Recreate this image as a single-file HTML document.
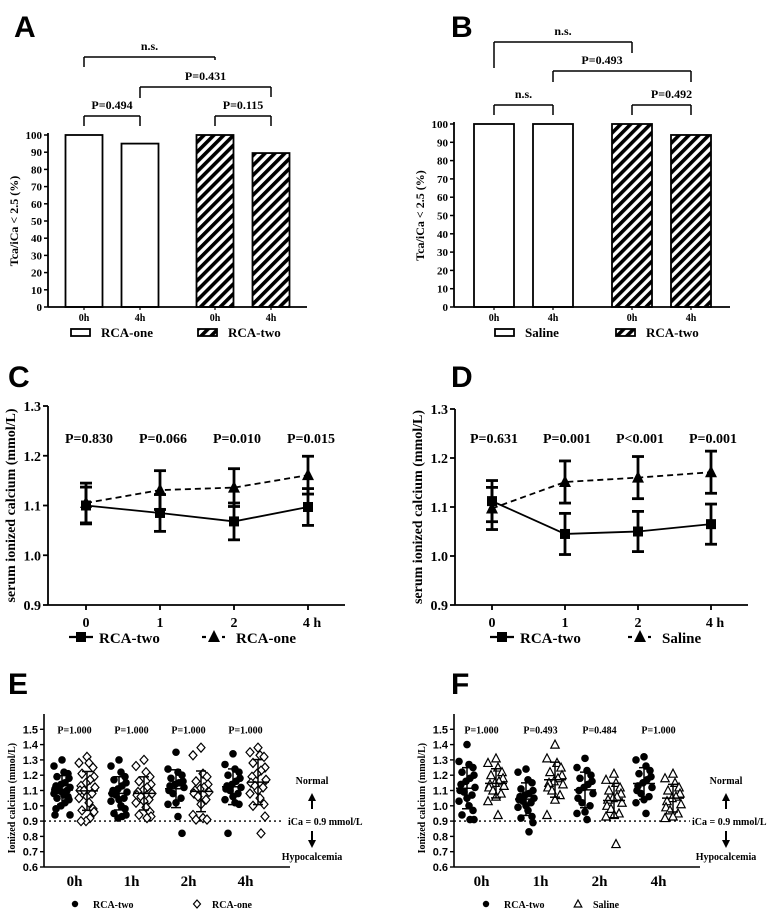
<!DOCTYPE html>
<html><head><meta charset="utf-8">
<style>
html,body{margin:0;padding:0;background:#fff;}
svg{display:block;}
.ser{font-family:"Liberation Serif",serif;font-weight:bold;fill:#000;}
.san{font-family:"Liberation Sans",sans-serif;font-weight:bold;fill:#000;}
</style></head>
<body>
<svg id="fig" width="778" height="912" viewBox="0 0 778 912" xmlns="http://www.w3.org/2000/svg">
<defs>
<pattern id="hatch" patternUnits="userSpaceOnUse" width="7" height="7" patternTransform="rotate(45)">
<rect width="7" height="7" fill="#fff"/><rect width="3.6" height="7" fill="#000"/>
</pattern>
</defs>
</svg>
<script>
// ---- Data ----
// Panel A
const barCatsA = ["0h","4h","0h","4h"];
const barValsA = [100, 95, 100, 89.5];
const barHatchA = [false,false,true,true];
// Panel B
const barCatsB = ["0h","4h","0h","4h"];
const barValsB = [100, 100, 100, 94];
const barHatchB = [false,false,true,true];
const barTicks = [0,10,20,30,40,50,60,70,80,90,100];
// Panel C
const lineCats = ["0","1","2","4 h"];
const cTwoMean = [1.100, 1.085, 1.068, 1.097];
const cTwoErr = [0.037, 0.037, 0.037, 0.037];
const cOneMean = [1.105, 1.131, 1.136, 1.161];
const cOneErr = [0.040, 0.039, 0.038, 0.038];
const cPvals = ["P=0.830","P=0.066","P=0.010","P=0.015"];
// Panel D
const dTwoMean = [1.112, 1.045, 1.050, 1.065];
const dTwoErr = [0.042, 0.042, 0.041, 0.041];
const dSalMean = [1.097, 1.151, 1.160, 1.171];
const dSalErr = [0.043, 0.043, 0.043, 0.043];
const dPvals = ["P=0.631","P=0.001","P<0.001","P=0.001"];
const lineTicks = [0.9,1.0,1.1,1.2,1.3];
// Panel E
const scatCats = ["0h","1h","2h","4h"];
const eTwo0 = [1.30,1.26,1.22,1.21,1.19,1.18,1.15,1.14,1.13,1.12,1.11,1.10,1.10,1.09,1.08,1.07,1.06,1.05,1.04,1.02,1.00,0.98,0.94,0.94];
const eOne0 = [1.32,1.28,1.28,1.25,1.21,1.19,1.17,1.15,1.13,1.12,1.10,1.10,1.08,1.06,1.05,1.02,0.98,0.97,0.96,0.92,0.90,0.90];
const eTwo1 = [1.30,1.26,1.22,1.19,1.17,1.15,1.13,1.11,1.10,1.09,1.08,1.07,1.05,1.04,1.03,1.00,0.98,0.95,0.94,0.93,0.92];
const eOne1 = [1.30,1.26,1.22,1.19,1.16,1.14,1.12,1.10,1.09,1.08,1.07,1.06,1.04,1.03,1.02,0.99,0.96,0.94,0.93,0.92];
const eTwo2 = [1.35,1.24,1.22,1.20,1.18,1.16,1.15,1.14,1.13,1.12,1.10,1.08,1.05,1.02,1.01,0.93,0.82];
const eOne2 = [1.38,1.33,1.21,1.19,1.16,1.14,1.12,1.11,1.10,1.09,1.08,1.06,1.04,1.01,0.94,0.92,0.91,0.91];
const eTwo4 = [1.34,1.27,1.24,1.22,1.20,1.18,1.16,1.14,1.13,1.12,1.11,1.10,1.08,1.06,1.04,1.02,1.01,0.82];
const eOne4 = [1.38,1.35,1.33,1.32,1.28,1.25,1.23,1.21,1.19,1.17,1.15,1.13,1.12,1.10,1.08,1.05,1.01,1.00,0.93,0.82];
const ePvals = ["P=1.000","P=1.000","P=1.000","P=1.000"];
// Panel F
const fTwo0 = [1.40,1.29,1.27,1.25,1.22,1.20,1.18,1.16,1.14,1.12,1.10,1.09,1.07,1.05,1.03,1.00,0.97,0.94,0.91,0.91];
const fSal0 = [1.31,1.28,1.25,1.22,1.20,1.18,1.16,1.15,1.14,1.13,1.12,1.10,1.08,1.06,1.03,0.94];
const fTwo1 = [1.24,1.22,1.17,1.15,1.11,1.10,1.08,1.07,1.06,1.05,1.04,1.03,1.02,1.00,0.99,0.97,0.93,0.92,0.89,0.83];
const fSal1 = [1.40,1.31,1.28,1.25,1.22,1.20,1.18,1.16,1.15,1.14,1.12,1.10,1.07,1.04,0.94];
const fTwo2 = [1.31,1.25,1.23,1.20,1.18,1.16,1.14,1.12,1.10,1.08,1.05,1.02,1.00,0.96,0.95,0.91];
const fSal2 = [1.21,1.17,1.15,1.12,1.10,1.08,1.06,1.05,1.04,1.02,1.00,0.98,0.95,0.94,0.93,0.75];
const fTwo4 = [1.32,1.30,1.26,1.23,1.21,1.19,1.17,1.15,1.13,1.12,1.10,1.08,1.06,1.04,1.02,0.95];
const fSal4 = [1.21,1.18,1.15,1.12,1.10,1.08,1.06,1.05,1.03,1.01,0.99,0.97,0.95,0.93,0.92];
const fPvals = ["P=1.000","P=0.493","P=0.484","P=1.000"];
const scatTicks = [0.6,0.7,0.8,0.9,1.0,1.1,1.2,1.3,1.4,1.5];

// ---- Helpers ----
const svg = document.getElementById('fig');
const NS = "http://www.w3.org/2000/svg";
function mk(tag, attrs, parent){
  const el = document.createElementNS(NS, tag);
  for (const k in attrs) el.setAttribute(k, attrs[k]);
  (parent||svg).appendChild(el);
  return el;
}
function txt(x,y,s,size,cls,anchor,name,rot){
  const el = mk('text',{x:x,y:y,'font-size':size,'class':cls,'text-anchor':anchor||'middle'});
  if (rot) el.setAttribute('transform','rotate(-90 '+x+' '+y+')');
  el.textContent = s;
  
  
  return el;
}
function ln(x1,y1,x2,y2,w,name,dash){
  const el = mk('line',{x1:x1,y1:y1,x2:x2,y2:y2,stroke:'#000','stroke-width':w||1.5});
  if (dash) el.setAttribute('stroke-dasharray', dash);
  
  
  return el;
}
function fmt1(v){return v.toFixed(1);}

// ---- Bar panels ----
function barPanel(cfg){
  const y = v => cfg.base - v*(cfg.base-cfg.top)/100;
  const xc = i => cfg.start + i*cfg.step + (i>=2?cfg.gap:0);
  txt(cfg.letterX, 37, cfg.letter, 30, 'san', 'start', 'panel-label-'+cfg.letter.toLowerCase());
  cfg.vals.forEach((v,i)=>{
    const r = mk('rect',{x:xc(i)-cfg.w/2,y:y(v),width:cfg.w,height:y(0)-y(v),fill:cfg.hatch[i]?'url(#hatch)':'#fff',stroke:'#000','stroke-width':1.8});
    
    
    txt(xc(i), cfg.base+14, cfg.cats[i], 10, 'ser', 'middle', 'x-tick-label');
    ln(xc(i), cfg.base, xc(i), cfg.base+3, 1.2, 'x-tick');
  });
  ln(cfg.ax, cfg.top-2, cfg.ax, cfg.base, 1.8, 'y-axis');
  ln(cfg.ax, cfg.base, cfg.axEnd, cfg.base, 1.8, 'x-axis');
  barTicks.forEach(t=>{
    ln(cfg.ax-4, y(t), cfg.ax, y(t), 1.5, 'y-tick');
    txt(cfg.ax-6, y(t)+4, String(t), 11, 'ser', 'end', 'y-tick-label');
  });
  txt(cfg.ax-30, (cfg.base+cfg.top)/2, 'Tca/iCa < 2.5 (%)', 12, 'ser', 'middle', 'y-axis-title', true);
  cfg.brackets.forEach(b=>{
    const x1 = xc(b.a), x2 = xc(b.b);
    ln(x1, b.y, x2, b.y, 1.5, 'bracket');
    ln(x1, b.y, x1, b.y+b.l1, 1.5, 'bracket-leg');
    ln(x2, b.y, x2, b.y+b.l2, 1.5, 'bracket-leg');
    txt((x1+x2)/2 + (b.dx||0), b.y-7, b.label, 12, 'ser', 'middle', 'significance-label');
  });
  const L = cfg.legend;
  let r1 = mk('rect',{x:L.x1,y:329,width:19,height:7,fill:'#fff',stroke:'#000','stroke-width':1.8});
  
  
  txt(L.x1+30, 337, L.t1, 13, 'ser', 'start', 'legend-label');
  let r2 = mk('rect',{x:L.x2,y:329,width:19,height:7,fill:'url(#hatch)',stroke:'#000','stroke-width':1.8});
  
  
  txt(L.x2+30, 337, L.t2, 13, 'ser', 'start', 'legend-label');
}
barPanel({id:'a',letter:'A',letterX:14,vals:barValsA,cats:barCatsA,hatch:barHatchA,base:307,top:135,ax:48,axEnd:307,start:84,step:56,gap:19,w:37,
  brackets:[{a:0,b:2,y:57,l1:10,l2:3,label:'n.s.',dx:0},{a:1,b:3,y:87,l1:11,l2:10,label:'P=0.431',dx:0},{a:0,b:1,y:116,l1:10,l2:10,label:'P=0.494'},{a:2,b:3,y:116,l1:10,l2:10,label:'P=0.115'}],
  legend:{x1:71,t1:'RCA-one',x2:198,t2:'RCA-two'}});
barPanel({id:'b',letter:'B',letterX:451,vals:barValsB,cats:barCatsB,hatch:barHatchB,base:307,top:124,ax:454,axEnd:730,start:494,step:59,gap:20,w:40,
  brackets:[{a:0,b:2,y:42,l1:26,l2:11,label:'n.s.'},{a:1,b:3,y:71,l1:11,l2:11,label:'P=0.493',dx:-20},{a:0,b:1,y:105,l1:10,l2:10,label:'n.s.'},{a:2,b:3,y:105,l1:10,l2:10,label:'P=0.492',dx:10}],
  legend:{x1:495,t1:'Saline',x2:616,t2:'RCA-two'}});

// ---- Line panels ----
function linePanel(cfg){
  const y = v => cfg.base - (v-0.9)*(cfg.base-cfg.top)/0.4;
  const x = i => cfg.x0 + i*cfg.step;
  txt(cfg.letterX, 387, cfg.letter, 30, 'san', 'start', 'panel-label-'+cfg.letter.toLowerCase());
  ln(cfg.ax, cfg.top, cfg.ax, cfg.base, 1.8, 'y-axis');
  ln(cfg.ax, cfg.base, cfg.axEnd, cfg.base, 1.8, 'x-axis');
  lineTicks.forEach(t=>{
    ln(cfg.ax-5, y(t), cfg.ax, y(t), 1.8, 'y-tick');
    txt(cfg.ax-7, y(t)+5, fmt1(t), 14, 'ser', 'end', 'y-tick-label');
  });
  lineCats.forEach((c,i)=>{
    ln(x(i), cfg.base, x(i), cfg.base+5, 1.8, 'x-tick');
    txt(x(i)+(i==3?4:0), cfg.base+22, c, 14, 'ser', 'middle', 'x-tick-label');
    txt(x(i)+(cfg.pdx||0), 443, cfg.p[i], 14, 'ser', 'middle', 'p-value-label');
  });
  txt(cfg.ax-33, (cfg.top+cfg.base)/2, 'serum ionized calcium (mmol/L)', 14, 'ser', 'middle', 'y-axis-title', true);
  function series(mean, err, dash, marker, name){
    const pts = mean.map((m,i)=>x(i)+','+y(m)).join(' ');
    const pl = mk('polyline',{points:pts,fill:'none',stroke:'#000','stroke-width':1.8});
    if (dash) pl.setAttribute('stroke-dasharray','6,4');
    
    
    mean.forEach((m,i)=>{
      ln(x(i), y(m+err[i]), x(i), y(m-err[i]), 2.8, name+'-error-bar');
      ln(x(i)-6, y(m+err[i]), x(i)+6, y(m+err[i]), 2.8, name+'-error-cap');
      ln(x(i)-6, y(m-err[i]), x(i)+6, y(m-err[i]), 2.8, name+'-error-cap');
      let mkEl;
      if (marker==='sq') mkEl = mk('rect',{x:x(i)-5,y:y(m)-5,width:10,height:10,fill:'#000'});
      else mkEl = mk('polygon',{points:(x(i))+','+(y(m)-7)+' '+(x(i)-6)+','+(y(m)+5)+' '+(x(i)+6)+','+(y(m)+5),fill:'#000'});
      
      
    });
  }
  series(cfg.twoM, cfg.twoE, false, 'sq', 'rca-two');
  series(cfg.otherM, cfg.otherE, true, 'tri', cfg.otherName);
  ln(cfg.lg1-12, 637, cfg.lg1+12, 637, 2.2, 'legend-line-solid');
  let s = mk('rect',{x:cfg.lg1-5,y:632,width:10,height:10,fill:'#000'});
  
  
  txt(cfg.lg1+18, 643, 'RCA-two', 15, 'ser', 'start', 'legend-label');
  ln(cfg.lg2-12, 637, cfg.lg2-8, 637, 2.2, 'legend-line-dash');
  ln(cfg.lg2+8, 637, cfg.lg2+11, 637, 2.2, 'legend-line-dash');
  let t = mk('polygon',{points:cfg.lg2+','+630+' '+(cfg.lg2-6)+','+642+' '+(cfg.lg2+6)+','+642,fill:'#000'});
  
  
  txt(cfg.lg2+22, 643, cfg.otherLabel, 15, 'ser', 'start', 'legend-label');
}
linePanel({letter:'C',letterX:8,ax:48,axEnd:345,top:406,base:605,x0:86,step:74,p:cPvals,twoM:cTwoMean,twoE:cTwoErr,otherM:cOneMean,otherE:cOneErr,otherName:'rca-one',otherLabel:'RCA-one',lg1:81,lg2:214,pdx:3});
linePanel({letter:'D',letterX:451,ax:455,axEnd:748,top:409,base:605,x0:492,step:73,p:dPvals,twoM:dTwoMean,twoE:dTwoErr,otherM:dSalMean,otherE:dSalErr,otherName:'saline',otherLabel:'Saline',lg1:502,lg2:640,pdx:2});

// ---- Scatter panels ----
function mean(a){return a.reduce((s,v)=>s+v,0)/a.length;}
function sd(a){const m=mean(a);return Math.sqrt(a.reduce((s,v)=>s+(v-m)*(v-m),0)/(a.length-1));}
const jitterPattern = [0,-6,6,-3,3,-8,8,-5,5,-1,2,-7,7];
function scatPanel(cfg){
  const y = v => cfg.base - (v-0.6)*(cfg.base-cfg.top)/1.0;
  const gx = (g,k) => cfg.x0 + g*cfg.gstep + (g>=2?cfg.ggap:0) + k*cfg.pair;
  txt(cfg.letterX, 694, cfg.letter, 30, 'san', 'start', 'panel-label-'+cfg.letter.toLowerCase());
  ln(cfg.ax, y(1.6), cfg.ax, cfg.base, 1.6, 'y-axis');
  ln(cfg.ax, cfg.base, cfg.axEnd, cfg.base, 1.6, 'x-axis');
  scatTicks.forEach(t=>{
    ln(cfg.ax-4, y(t), cfg.ax, y(t), 1.4, 'y-tick');
    txt(cfg.ax-6, y(t)+4, fmt1(t), 11, 'san', 'end', 'y-tick-label');
  });
  txt(cfg.ax-29, y(1.05), 'Ionized calcium (mmol/L)', 10, 'ser', 'middle', 'y-axis-title', true);
  ln(cfg.ax, y(0.9), cfg.lineEnd, y(0.9), 1.4, 'threshold-line', '2,3');
  scatCats.forEach((c,g)=>{
    const cx = (gx(g,0)+gx(g,1))/2;
    txt(cx, cfg.base+19, c, 15, 'ser', 'middle', 'x-tick-label');
    txt(cx, y(1.5)+4, cfg.p[g], 10, 'ser', 'middle', 'p-value-label');
  });
  cfg.groups.forEach((grp,gi)=>{
    const g = Math.floor(gi/2), k = gi%2;
    const cx = gx(g,k);
    grp.forEach((v,i)=>{
      const off = jitterPattern[(i*5)%jitterPattern.length];
      const px = cx+off, py = y(v);
      let el;
      if (k===0) el = mk('circle',{cx:px,cy:py,r:3.8,fill:'#000'});
      else if (cfg.shape==='dia') el = mk('polygon',{points:px+','+(py-4.5)+' '+(px+4)+','+py+' '+px+','+(py+4.5)+' '+(px-4)+','+py,fill:'#fff',stroke:'#000','stroke-width':1.2});
      else el = mk('polygon',{points:px+','+(py-4.5)+' '+(px-4.2)+','+(py+3.5)+' '+(px+4.2)+','+(py+3.5),fill:'#fff',stroke:'#000','stroke-width':1.2});
      
      
    });
    const m = mean(grp), s = sd(grp);
    ln(cx-11, y(m), cx+11, y(m), 1.5, 'mean-line');
    ln(cx, y(m-s), cx, y(m+s), 1.5, 'sd-bar');
    ln(cx-5, y(m+s), cx+5, y(m+s), 1.5, 'sd-cap');
    ln(cx-5, y(m-s), cx+5, y(m-s), 1.5, 'sd-cap');
  });
  txt(cfg.annX, 784, 'Normal', 10, 'ser', 'middle', 'normal-label');
  ln(cfg.annX, 809, cfg.annX, 799, 2, 'arrow-up-shaft');
  let a1 = mk('polygon',{points:cfg.annX+',793 '+(cfg.annX-4)+',801 '+(cfg.annX+4)+',801',fill:'#000'});
  
  
  txt(cfg.iX, y(0.9)+4, 'iCa = 0.9 mmol/L', 10, 'ser', 'start', 'threshold-label');
  ln(cfg.annX, 831, cfg.annX, 842, 2, 'arrow-down-shaft');
  let a2 = mk('polygon',{points:cfg.annX+',848 '+(cfg.annX-4)+',840 '+(cfg.annX+4)+',840',fill:'#000'});
  
  
  txt(cfg.annX, 860, 'Hypocalcemia', 10, 'ser', 'middle', 'hypocalcemia-label');
  let d = mk('circle',{cx:cfg.lg1,cy:904,r:3.2,fill:'#000'});
  
  
  txt(cfg.lg1+18, 908, 'RCA-two', 10, 'ser', 'start', 'legend-label');
  let o;
  if (cfg.shape==='dia') o = mk('polygon',{points:cfg.lg2+',900 '+(cfg.lg2+3.5)+',904 '+cfg.lg2+',908 '+(cfg.lg2-3.5)+',904',fill:'#fff',stroke:'#000','stroke-width':1.2});
  else o = mk('polygon',{points:cfg.lg2+',900 '+(cfg.lg2-3.8)+',907 '+(cfg.lg2+3.8)+',907',fill:'#fff',stroke:'#000','stroke-width':1.2});
  
  
  txt(cfg.lg2+15, 908, cfg.otherLabel, 10, 'ser', 'start', 'legend-label');
}
scatPanel({letter:'E',letterX:8,ax:44,axEnd:290,lineEnd:284,base:867,top:714,x0:62,gstep:57,ggap:0,pair:25,p:ePvals,
  groups:[eTwo0,eOne0,eTwo1,eOne1,eTwo2,eOne2,eTwo4,eOne4],shape:'dia',otherName:'rca-one',otherLabel:'RCA-one',annX:312,iX:288,lg1:75,lg2:197});
scatPanel({letter:'F',letterX:451,ax:454,axEnd:700,lineEnd:690,base:867,top:714,x0:467,gstep:59,ggap:0,pair:29,p:fPvals,
  groups:[fTwo0,fSal0,fTwo1,fSal1,fTwo2,fSal2,fTwo4,fSal4],shape:'tri',otherName:'saline',otherLabel:'Saline',annX:726,iX:692,lg1:486,lg2:578});
</script>
</body></html>
